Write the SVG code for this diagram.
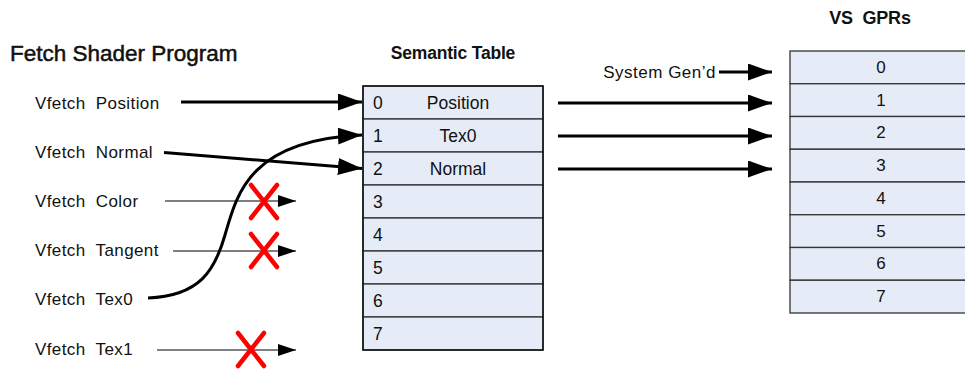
<svg xmlns="http://www.w3.org/2000/svg" width="965" height="371" viewBox="0 0 965 371">
<style>
text{font-family:"Liberation Sans",Arial,sans-serif;fill:#111;white-space:pre}
.lbl{font-size:17px;letter-spacing:0.4px}
.cell{font-size:17.5px}
.ttl{font-size:17.5px;font-weight:bold;letter-spacing:-0.2px}
.row{fill:#e6ecf7;stroke:#333;stroke-width:1.3}
.big{stroke:#000;stroke-width:3;fill:none;marker-end:url(#ab)}
.thin{stroke:#000;stroke-width:1.2;fill:none;marker-end:url(#as)}
.x{stroke:#f00;stroke-width:4.5;stroke-linecap:round}
</style>
<defs>
<marker id="ab" markerUnits="userSpaceOnUse" markerWidth="24" markerHeight="17" refX="24" refY="8.5" orient="auto"><path d="M0,0 L24,8.5 L0,17 z" fill="#000"/></marker>
<marker id="as" markerUnits="userSpaceOnUse" markerWidth="18" markerHeight="12" refX="18" refY="6" orient="auto"><path d="M0,0 L18,6 L0,12 z" fill="#000"/></marker>
</defs>
<g id="title"><text x="10" y="61" style="font-size:22.5px;stroke:#111;stroke-width:0.5">Fetch Shader Program</text></g>
<g id="fetch-labels">
<text class="lbl" x="35" y="109">Vfetch  Position</text>
<text class="lbl" x="35" y="158">Vfetch  Normal</text>
<text class="lbl" x="35" y="207">Vfetch  Color</text>
<text class="lbl" x="35" y="256">Vfetch  Tangent</text>
<text class="lbl" x="35" y="305">Vfetch  Tex0</text>
<text class="lbl" x="35" y="355">Vfetch  Tex1</text>
</g>
<g id="semantic-table">
<text class="ttl" x="453" y="59" text-anchor="middle">Semantic Table</text>
<rect class="row" x="363" y="86" width="180" height="33"/>
<rect class="row" x="363" y="119" width="180" height="33"/>
<rect class="row" x="363" y="152" width="180" height="33"/>
<rect class="row" x="363" y="185" width="180" height="33"/>
<rect class="row" x="363" y="218" width="180" height="33"/>
<rect class="row" x="363" y="251" width="180" height="33"/>
<rect class="row" x="363" y="284" width="180" height="33"/>
<rect class="row" x="363" y="317" width="180" height="33"/>
<rect x="363" y="86" width="180" height="264" fill="none" stroke="#111" stroke-width="1.5"/>
<text class="cell" x="373" y="109">0</text><text class="cell" x="458" y="109" text-anchor="middle">Position</text>
<text class="cell" x="373" y="142">1</text><text class="cell" x="458" y="142" text-anchor="middle">Tex0</text>
<text class="cell" x="373" y="175">2</text><text class="cell" x="458" y="175" text-anchor="middle">Normal</text>
<text class="cell" x="373" y="208">3</text>
<text class="cell" x="373" y="241">4</text>
<text class="cell" x="373" y="274">5</text>
<text class="cell" x="373" y="307">6</text>
<text class="cell" x="373" y="340">7</text>
</g>
<g id="vs-gprs">
<text class="ttl" x="870" y="24" text-anchor="middle" style="font-size:18px">VS  GPRs</text>
<rect class="row" x="790" y="51" width="185" height="32.75"/>
<rect class="row" x="790" y="83.75" width="185" height="32.75"/>
<rect class="row" x="790" y="116.5" width="185" height="32.75"/>
<rect class="row" x="790" y="149.25" width="185" height="32.75"/>
<rect class="row" x="790" y="182" width="185" height="32.75"/>
<rect class="row" x="790" y="214.75" width="185" height="32.75"/>
<rect class="row" x="790" y="247.5" width="185" height="32.75"/>
<rect class="row" x="790" y="280.25" width="185" height="32.75"/>
<text class="cell" x="881" y="73" text-anchor="middle" style="font-size:17px">0</text>
<text class="cell" x="881" y="106" text-anchor="middle" style="font-size:17px">1</text>
<text class="cell" x="881" y="138" text-anchor="middle" style="font-size:17px">2</text>
<text class="cell" x="881" y="171" text-anchor="middle" style="font-size:17px">3</text>
<text class="cell" x="881" y="204" text-anchor="middle" style="font-size:17px">4</text>
<text class="cell" x="881" y="237" text-anchor="middle" style="font-size:17px">5</text>
<text class="cell" x="881" y="269" text-anchor="middle" style="font-size:17px">6</text>
<text class="cell" x="881" y="302" text-anchor="middle" style="font-size:17px">7</text>
</g>
<g id="system-gend"><text x="716" y="78" text-anchor="end" style="font-size:17px;letter-spacing:0.5px">System Gen’d</text></g>
<g id="connectors">
<line class="big" x1="181" y1="102" x2="362" y2="102"/>
<line class="big" x1="164" y1="152.5" x2="362" y2="168.5"/>
<path class="big" d="M148,298 C200,296 215,270 225,235 C237,193 250,140 362,135"/>
<line class="thin" x1="165" y1="201" x2="296" y2="201"/>
<line class="thin" x1="173" y1="251" x2="296" y2="251"/>
<line class="thin" x1="157" y1="350" x2="296" y2="350"/>
<line class="big" x1="558" y1="103" x2="772" y2="103"/>
<line class="big" x1="558" y1="136" x2="772" y2="136"/>
<line class="big" x1="558" y1="169" x2="772" y2="169"/>
<line class="big" x1="719" y1="72" x2="772" y2="72"/>
</g>
<g id="rejects">
<line class="x" x1="251" y1="185" x2="277" y2="218"/><line class="x" x1="277" y1="185" x2="251" y2="218"/>
<line class="x" x1="251" y1="234" x2="277" y2="267"/><line class="x" x1="277" y1="234" x2="251" y2="267"/>
<line class="x" x1="238" y1="333" x2="264" y2="366"/><line class="x" x1="264" y1="333" x2="238" y2="366"/>
</g>
</svg>
